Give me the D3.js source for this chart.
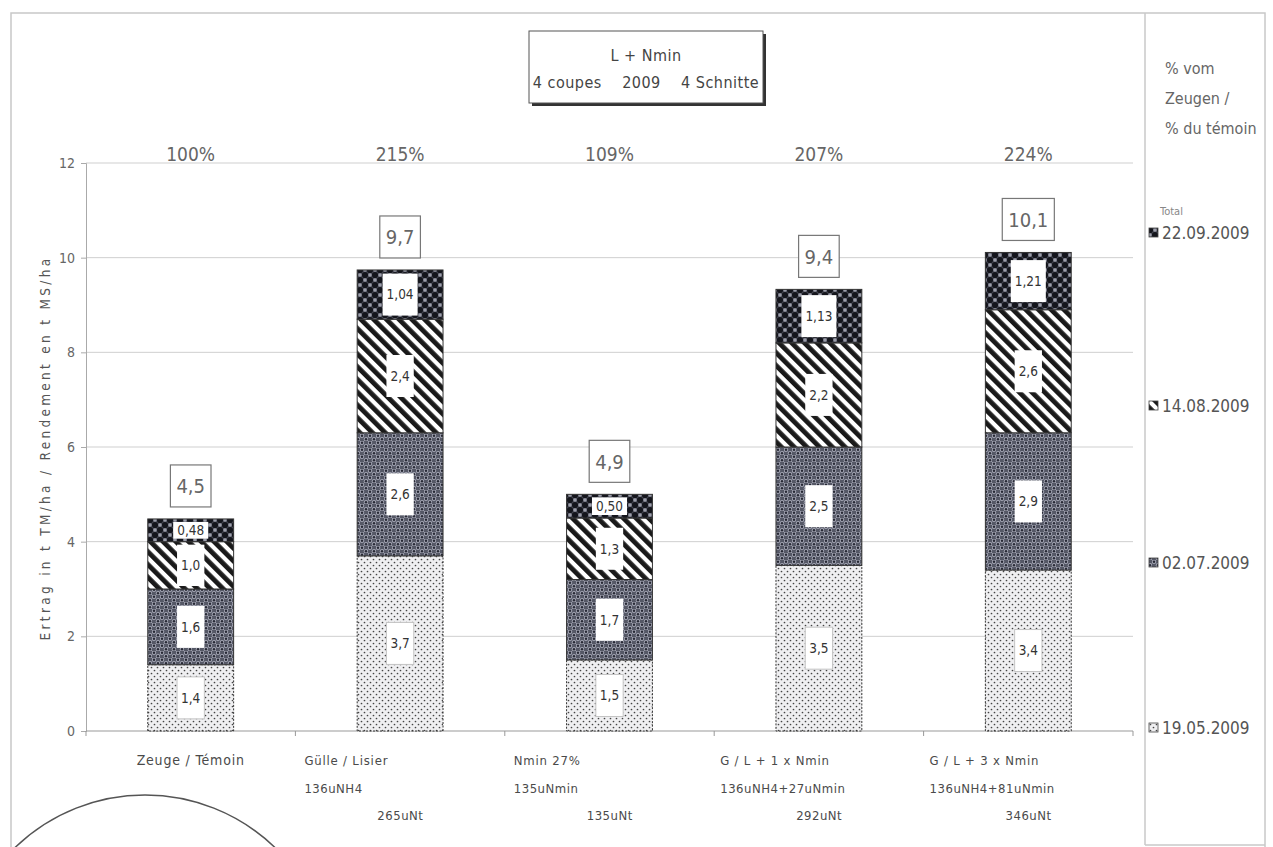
<!DOCTYPE html>
<html><head><meta charset="utf-8">
<script src="https://cdn.jsdelivr.net/npm/d3@7"></script>
<style>
body{margin:0;background:#fff;}
svg{display:block;}
text{font-family:"Liberation Sans Narrow","DejaVu Sans Condensed","Liberation Sans",sans-serif;}
</style></head>
<body>
<script>
// ---------- DATA ----------
const categories = ["Zeuge / Témoin","Gülle / Lisier","Nmin 27%","G / L + 1 x Nmin","G / L + 3 x Nmin"];
const catLine2 = ["","136uNH4","135uNmin","136uNH4+27uNmin","136uNH4+81uNmin"];
const catLine3 = ["","265uNt","135uNt","292uNt","346uNt"];
const seriesNames = ["19.05.2009","02.07.2009","14.08.2009","22.09.2009"];
const cut1 = [1.4, 3.7, 1.5, 3.5, 3.4];     // 19.05.2009
const cut2 = [1.6, 2.6, 1.7, 2.5, 2.9];     // 02.07.2009
const cut3 = [1.0, 2.4, 1.3, 2.2, 2.6];     // 14.08.2009
const cut4 = [0.48, 1.04, 0.50, 1.13, 1.21];// 22.09.2009
const totals = [4.5, 9.7, 4.9, 9.4, 10.1];
const percents = ["100%","215%","109%","207%","224%"];
const yTicks = [0,2,4,6,8,10,12];
const titleLines = ["L + Nmin","4 coupes    2009    4 Schnitte"];
const legendTitle = ["% vom","Zeugen /","% du témoin"];

// ---------- SETUP ----------
const W = 1273, H = 847;
const svg = d3.select("body").append("svg").attr("width",W).attr("height",H);
const defs = svg.append("defs");

// patterns
const p1 = defs.append("pattern").attr("id","pat0").attr("patternUnits","userSpaceOnUse").attr("width",6).attr("height",6);
p1.append("rect").attr("width",6).attr("height",6).attr("fill","#efeff1");
p1.append("circle").attr("cx",1.5).attr("cy",1.5).attr("r",0.85).attr("fill","#444");
p1.append("circle").attr("cx",4.5).attr("cy",4.5).attr("r",0.85).attr("fill","#444");

const p2 = defs.append("pattern").attr("id","pat1").attr("patternUnits","userSpaceOnUse").attr("width",8).attr("height",7);
p2.append("rect").attr("width",8).attr("height",7).attr("fill","#555866");
p2.append("circle").attr("cx",2).attr("cy",1.75).attr("r",2.2).attr("fill","#a2a4b2");
p2.append("circle").attr("cx",6).attr("cy",5.25).attr("r",2.2).attr("fill","#a2a4b2");
p2.append("circle").attr("cx",2).attr("cy",1.75).attr("r",1.2).attr("fill","#262834");
p2.append("circle").attr("cx",6).attr("cy",5.25).attr("r",1.2).attr("fill","#262834");

const p3 = defs.append("pattern").attr("id","pat2").attr("patternUnits","userSpaceOnUse").attr("width",9).attr("height",9).attr("patternTransform","rotate(-45)");
p3.append("rect").attr("width",9).attr("height",9).attr("fill","#fff");
p3.append("rect").attr("width",4.8).attr("height",9).attr("fill","#1a1a1a");

const p4 = defs.append("pattern").attr("id","pat3").attr("patternUnits","userSpaceOnUse").attr("width",10).attr("height",10);
p4.append("rect").attr("width",10).attr("height",10).attr("fill","#4c4e5a");
[[5,0],[0,5],[10,5],[5,10]].forEach(([cx,cy])=>p4.append("circle").attr("cx",cx).attr("cy",cy).attr("r",1.8).attr("fill","#9c9eaa"));
[[0,0],[10,0],[0,10],[10,10],[5,5]].forEach(([cx,cy])=>p4.append("circle").attr("cx",cx).attr("cy",cy).attr("r",3.1).attr("fill","#14151c"));

// frames
svg.append("rect").attr("x",11).attr("y",13).attr("width",1254).attr("height",H).attr("fill","none").attr("stroke","#c8c8c8").attr("stroke-width",1.5);
svg.append("line").attr("x1",1145).attr("x2",1145).attr("y1",13).attr("y2",845).attr("stroke","#c8c8c8").attr("stroke-width",1.5);
svg.append("line").attr("x1",1145).attr("x2",1265).attr("y1",845).attr("y2",845).attr("stroke","#c8c8c8").attr("stroke-width",1.5);

// scales
const x = d3.scaleBand().domain(categories).range([86,1133]).paddingInner(0.59).paddingOuter(0.295);
const y = d3.scaleLinear().domain([0,12]).range([731,163]);

// gridlines
svg.append("g").selectAll("line").data(yTicks.filter(d=>d>0)).join("line")
  .attr("x1",86).attr("x2",1133).attr("y1",d=>y(d)).attr("y2",d=>y(d))
  .attr("stroke","#cfcfcf").attr("stroke-width",1);

// y axis
const yAx = svg.append("g").attr("transform","translate(86,0)")
  .call(d3.axisLeft(y).tickValues(yTicks).tickSize(5).tickPadding(6).tickFormat(d3.format("d")));
yAx.select(".domain").attr("stroke","#aaa");
yAx.selectAll(".tick line").attr("stroke","#aaa");
yAx.selectAll("text").attr("fill","#666").attr("font-size",14).attr("font-family","'DejaVu Sans Condensed',sans-serif");

// x axis line + boundary ticks
svg.append("line").attr("x1",86).attr("x2",1133).attr("y1",y(0)).attr("y2",y(0)).attr("stroke","#999").attr("stroke-width",1.2);
const step = x.step();
svg.append("g").selectAll("line").data(d3.range(categories.length+1)).join("line")
  .attr("x1",i=>86+i*step).attr("x2",i=>86+i*step).attr("y1",y(0)).attr("y2",y(0)+5).attr("stroke","#999");

// y axis title
svg.append("text").attr("transform",`translate(50,448) rotate(-90)`)
  .attr("text-anchor","middle").attr("font-size",13.5).attr("letter-spacing",3.3).attr("fill","#555")
  .text("Ertrag in t TM/ha / Rendement en t MS/ha");

// stacked data
const table = categories.map((c,i)=>({cat:c, s0:cut1[i], s1:cut2[i], s2:cut3[i], s3:cut4[i]}));
const stack = d3.stack().keys(["s0","s1","s2","s3"])(table);

const fmt = (v,k)=> (k===3 ? v.toFixed(2) : v.toFixed(1)).replace(".",",");

const g = svg.append("g");
stack.forEach((layer,k)=>{
  g.append("g").selectAll("rect").data(layer).join("rect")
    .attr("x",d=>x(d.data.cat)).attr("width",x.bandwidth())
    .attr("y",d=>y(d[1])).attr("height",d=>y(d[0])-y(d[1]))
    .attr("fill",`url(#pat${k})`).attr("stroke","#333").attr("stroke-width",1)
    .attr("stroke-dasharray", k===0 ? "2,1.5" : null);
});
// segment labels
const fsz = 13.5;
stack.forEach((layer,k)=>{
  const lg = g.append("g");
  layer.forEach(d=>{
    const cx = x(d.data.cat)+x.bandwidth()/2;
    const segH = y(d[0])-y(d[1]);
    const cy = (y(d[0])+y(d[1]))/2;
    const txt = fmt(d[1]-d[0],k);
    const t = lg.append("text").attr("x",cx).attr("y",cy).attr("dy","0.36em")
      .attr("text-anchor","middle").attr("font-size",fsz).attr("fill","#333").text(txt);
    const bw = t.node().getComputedTextLength()+8;
    const bh = Math.min(42, segH-6);
    lg.insert("rect","text").attr("x",cx-bw/2).attr("y",cy-bh/2).attr("width",bw).attr("height",bh)
      .attr("fill","#fff").attr("stroke",k===0?"#c4c4c4":"none").attr("stroke-width",1);
  });
});

// totals
const tg = svg.append("g");
table.forEach((d,i)=>{
  const cx = x(d.cat)+x.bandwidth()/2;
  const top = y(cut1[i]+cut2[i]+cut3[i]+cut4[i]);
  const t = tg.append("text").attr("x",cx).attr("y",top-33).attr("dy","0.36em")
    .attr("text-anchor","middle").attr("font-size",20).attr("fill","#666").text(String(totals[i]).replace(".",","));
  const bw = t.node().getComputedTextLength()+12;
  tg.insert("rect","text").attr("x",cx-bw/2).attr("y",top-54).attr("width",bw).attr("height",42)
    .attr("fill","#fff").attr("stroke","#777").attr("stroke-width",1.2);
});

// percent labels
svg.append("g").selectAll("text").data(categories).join("text")
  .attr("x",d=>x(d)+x.bandwidth()/2).attr("y",161).attr("text-anchor","middle")
  .attr("font-size",19).attr("fill","#666").text((d,i)=>percents[i]);

// category labels
const xl = svg.append("g").attr("fill","#4a4a4a").attr("font-size",13);
categories.forEach((c,i)=>{
  const bandStart = x(c) - x.paddingOuter()*step;
  if(i===0){
    xl.append("text").attr("x",x(c)+x.bandwidth()/2).attr("y",765).attr("font-size",14).attr("text-anchor","middle").attr("letter-spacing",0.8).text(c);
  } else {
    xl.append("text").attr("x",bandStart+(i>=3?6:9)).attr("y",765).attr("letter-spacing",0.8).text(c);
    xl.append("text").attr("x",bandStart+(i>=3?6:9)).attr("y",793).attr("letter-spacing",0.5).text(catLine2[i]);
    xl.append("text").attr("x",bandStart+128).attr("y",820).attr("text-anchor","end").attr("letter-spacing",0.5).text(catLine3[i]);
  }
});

// title box
const tb = svg.append("g");
tb.append("rect").attr("x",532).attr("y",34).attr("width",234).attr("height",72).attr("fill","#333");
tb.append("rect").attr("x",529).attr("y",31).attr("width",234).attr("height",72).attr("fill","#fff").attr("stroke","#555").attr("stroke-width",1);
titleLines.forEach((l,i)=>tb.append("text").attr("x",646).attr("y",61+i*27).attr("text-anchor","middle")
  .attr("font-size",16).attr("letter-spacing",0.5).attr("fill","#444").style("white-space","pre").text(l));

// legend
const lgd = svg.append("g");
legendTitle.forEach((l,i)=>lgd.append("text").attr("x",1165).attr("y",74+i*30).attr("font-size",16).attr("fill","#666").text(l));
lgd.append("text").attr("x",1160).attr("y",215).attr("font-size",11).attr("fill","#888").text("Total");
const legendY = [728, 563, 406, 233];
seriesNames.forEach((n,k)=>{
  lgd.append("rect").attr("x",1149).attr("y",legendY[k]-5).attr("width",9).attr("height",9)
    .attr("fill",`url(#pat${k})`).attr("stroke","#444").attr("stroke-width",0.8);
  lgd.append("text").attr("x",1162).attr("y",legendY[k]).attr("dy","0.36em").attr("font-size",17).attr("fill","#555").text(n);
});

// decorative arc (bottom-left)
svg.append("circle").attr("cx",145).attr("cy",982).attr("r",187).attr("fill","none").attr("stroke","#555").attr("stroke-width",1.5);
</script>
</body></html>
